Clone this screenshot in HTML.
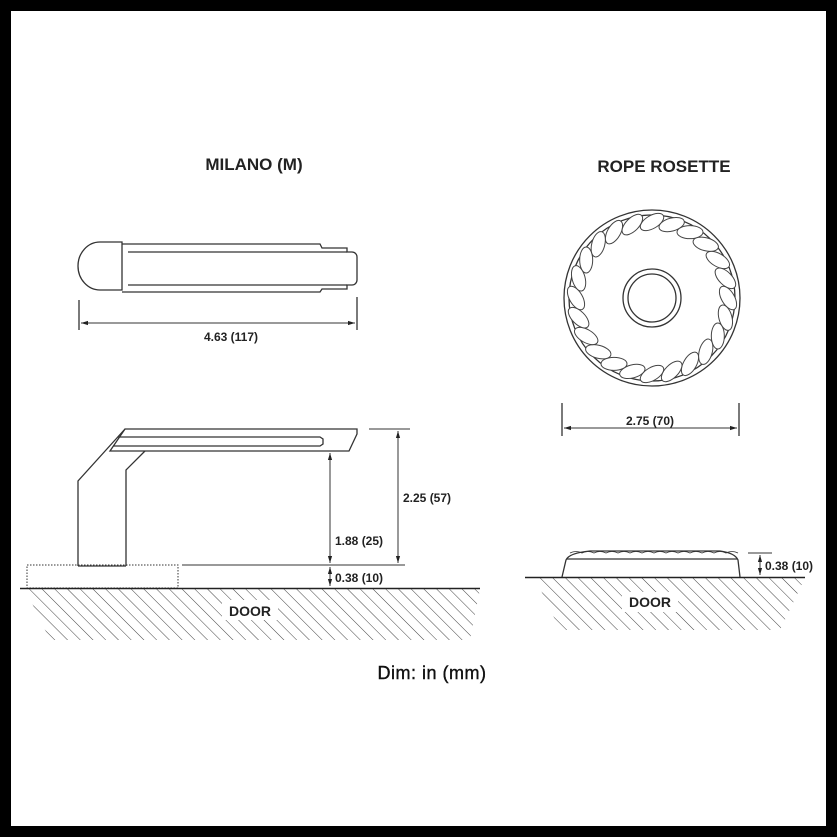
<!DOCTYPE html>
<html><head><style>
html,body{margin:0;padding:0;background:#000;}
svg{display:block;}
text{font-family:"Liberation Sans",Arial,sans-serif;}
</style></head><body>
<svg width="837" height="837" viewBox="0 0 837 837" xmlns="http://www.w3.org/2000/svg">
<defs>
<pattern id="h" width="9" height="9" patternUnits="userSpaceOnUse" patternTransform="rotate(-45)">
<line x1="0" y1="0" x2="0" y2="9" stroke="#444" stroke-width="1"/>
</pattern>
<marker id="a" viewBox="0 0 10 10" refX="10" refY="5" markerWidth="7" markerHeight="7" orient="auto-start-reverse"><path d="M0,2 L10,5 L0,8z" fill="#222"/></marker>
</defs>
<rect x="11" y="11" width="815" height="815" fill="#fff"/>
<g fill="none" stroke="#333" stroke-width="1.3">
<path d="M122,242 L100,242 A22,24 0 0 0 100,290 L122,290 Z"/>
<path d="M122,244 L320,244 L322,248 L347,248 L347,252 L352,252 A5,5 0 0 1 357,257 L357,280 A5,5 0 0 1 352,285 L347,285 L347,289 L322,289 L320,292 L122,292"/>
<line x1="128" y1="252" x2="347" y2="252"/>
<line x1="128" y1="285" x2="347" y2="285"/>
<line x1="79" y1="300" x2="79" y2="330"/>
<line x1="357" y1="297" x2="357" y2="330"/>
<line x1="81" y1="323" x2="355" y2="323" marker-start="url(#a)" marker-end="url(#a)" stroke-width="1"/>
<path d="M125,429 L357,429 L357,434 L349,451 L110,451 Z"/>
<path d="M118,437 L320,437 L323,439 L323,444 L320,446 L113,446"/>
<path d="M78,566 L78,481 L125,429"/>
<path d="M126,566 L126,470 L145,451"/>
<line x1="78" y1="566" x2="126" y2="566"/>
<rect x="27" y="565" width="151" height="23" stroke-dasharray="1.5,1.5" stroke-width="1"/>
<line x1="182" y1="565" x2="405" y2="565" stroke-width="1"/>
<line x1="369" y1="429" x2="410" y2="429" stroke-width="1"/>
<line x1="330" y1="453" x2="330" y2="563" marker-start="url(#a)" marker-end="url(#a)" stroke-width="1"/>
<line x1="330" y1="567" x2="330" y2="586" marker-start="url(#a)" marker-end="url(#a)" stroke-width="1"/>
<line x1="398" y1="431" x2="398" y2="563" marker-start="url(#a)" marker-end="url(#a)" stroke-width="1"/>
<circle cx="652" cy="298" r="88"/>
<circle cx="652" cy="298" r="83"/>
<circle cx="652" cy="298" r="29"/>
<circle cx="652" cy="298" r="24"/>
<line x1="562" y1="403" x2="562" y2="436"/>
<line x1="739" y1="403" x2="739" y2="436"/>
<line x1="564" y1="428" x2="737" y2="428" marker-start="url(#a)" marker-end="url(#a)" stroke-width="1"/>
<path d="M562,577 L566,560 Q569,553 590,551 L720,551 Q735,553 738,560 L740,577"/>
<line x1="567" y1="559" x2="737" y2="559"/>
<path d="M570,553 q6,-3 12,0 q6,-3 12,0 q6,-3 12,0 q6,-3 12,0 q6,-3 12,0 q6,-3 12,0 q6,-3 12,0 q6,-3 12,0 q6,-3 12,0 q6,-3 12,0 q6,-3 12,0 q6,-3 12,0 q6,-3 12,0 q6,-3 12,0" stroke-width="0.8"/>
<line x1="748" y1="553" x2="772" y2="553" stroke-width="1"/>
<line x1="760" y1="555" x2="760" y2="575" marker-start="url(#a)" marker-end="url(#a)" stroke-width="1"/>
</g>
<g fill="#fff" stroke="#444" stroke-width="1" transform="translate(652,298)">
<g id="seg"><ellipse cx="0" cy="-76" rx="13" ry="6.5" transform="rotate(-30 0 -76)"/></g>
<use href="#seg" transform="rotate(15)"/><use href="#seg" transform="rotate(30)"/><use href="#seg" transform="rotate(45)"/><use href="#seg" transform="rotate(60)"/><use href="#seg" transform="rotate(75)"/><use href="#seg" transform="rotate(90)"/><use href="#seg" transform="rotate(105)"/><use href="#seg" transform="rotate(120)"/><use href="#seg" transform="rotate(135)"/><use href="#seg" transform="rotate(150)"/><use href="#seg" transform="rotate(165)"/><use href="#seg" transform="rotate(180)"/><use href="#seg" transform="rotate(195)"/><use href="#seg" transform="rotate(210)"/><use href="#seg" transform="rotate(225)"/><use href="#seg" transform="rotate(240)"/><use href="#seg" transform="rotate(255)"/><use href="#seg" transform="rotate(270)"/><use href="#seg" transform="rotate(285)"/><use href="#seg" transform="rotate(300)"/><use href="#seg" transform="rotate(315)"/><use href="#seg" transform="rotate(330)"/><use href="#seg" transform="rotate(345)"/>
</g>
<path d="M25,589 L480,589 L470,640 L50,640 Z" fill="url(#h)"/>
<line x1="20" y1="588.5" x2="480" y2="588.5" stroke="#222" stroke-width="1.5"/>
<path d="M535,578 L805,578 L780,630 L560,630 Z" fill="url(#h)"/>
<line x1="525" y1="577.5" x2="805" y2="577.5" stroke="#222" stroke-width="1.5"/>
<rect x="222" y="600" width="56" height="20" fill="#fff"/>
<rect x="622" y="592" width="56" height="20" fill="#fff"/>
<g font-weight="bold" fill="#222">
<text x="254" y="170" font-size="17" text-anchor="middle">MILANO (M)</text>
<text x="664" y="172" font-size="17" text-anchor="middle">ROPE ROSETTE</text>
<text x="231" y="341" font-size="12" text-anchor="middle">4.63 (117)</text>
<text x="403" y="502" font-size="12">2.25 (57)</text>
<text x="335" y="545" font-size="12">1.88 (25)</text>
<text x="335" y="582" font-size="12">0.38 (10)</text>
<text x="650" y="425" font-size="12" text-anchor="middle">2.75 (70)</text>
<text x="765" y="570" font-size="12">0.38 (10)</text>
<text x="250" y="616" font-size="14" text-anchor="middle">DOOR</text>
<text x="650" y="607" font-size="14" text-anchor="middle">DOOR</text>
</g>
<text x="432" y="679" font-size="18" text-anchor="middle" fill="#111" stroke="#111" stroke-width="0.4" letter-spacing="0.5">Dim: in (mm)</text>
</svg>
</body></html>
